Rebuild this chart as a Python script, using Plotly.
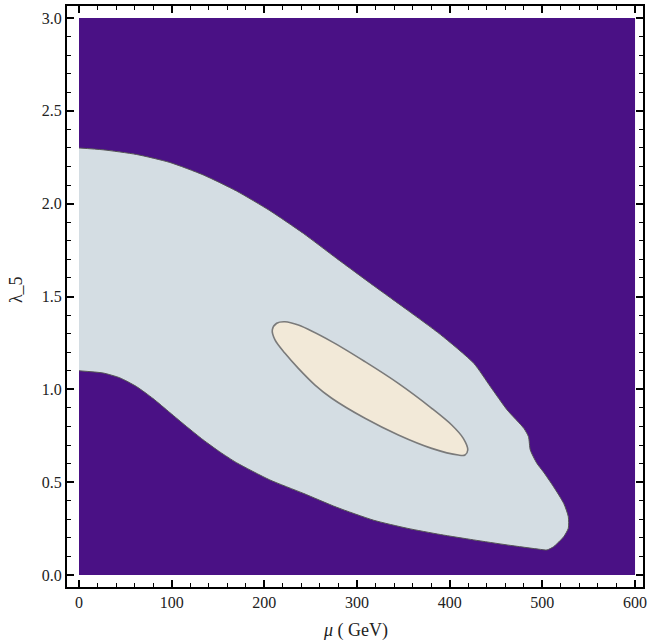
import plotly.graph_objects as go

# Plot domain (data units)
MU_RANGE = [0, 600]
LAM_RANGE = [0, 3]

# Allowed (light) region boundary: upper edge left->right, around tip, lower edge right->left
region_mu = [0, 26, 62, 98, 134, 170, 206, 242, 278, 318, 354, 390, 426, 444, 462, 480,
             485, 487, 494, 501, 512, 523, 528, 528, 523, 512, 505,
             498, 462, 426, 390, 354, 318, 278, 242, 206, 170, 152, 134, 116, 98, 80, 62, 44, 26, 0]
region_lam = [2.300, 2.290, 2.265, 2.222, 2.155, 2.068, 1.962, 1.840, 1.705, 1.558, 1.428, 1.295, 1.140, 1.014, 0.889, 0.790,
              0.745, 0.673, 0.602, 0.556, 0.476, 0.386, 0.314, 0.252, 0.206, 0.152, 0.135,
              0.138, 0.162, 0.189, 0.218, 0.252, 0.295, 0.365, 0.440, 0.512, 0.605, 0.663, 0.728, 0.800, 0.875, 0.950, 1.015, 1.062, 1.088, 1.100]

# Inner (cream) region boundary
ell_mu = [208.6, 213.3, 222.3, 236.7, 272.7, 308.6, 344.6, 380.6, 402.2, 414.7, 419.5,
          416.5, 409.3, 380.6, 344.6, 308.6, 272.7, 254.7, 236.7, 222.3, 211.5, 208.6]
ell_lam = [1.320, 1.356, 1.364, 1.346, 1.257, 1.149, 1.032, 0.898, 0.808, 0.736, 0.673,
           0.646, 0.646, 0.682, 0.754, 0.844, 0.952, 1.023, 1.113, 1.194, 1.266, 1.320]

X_TICKS = [0, 100, 200, 300, 400, 500, 600]
Y_TICKS = [0.0, 0.5, 1.0, 1.5, 2.0, 2.5, 3.0]

PURPLE = "#4A1185"
LIGHT = "#D4DDE3"
CREAM = "#F2E9D8"
EDGE = "#7A7A7A"
FONT = "Liberation Serif"

fig = go.Figure()

fig.add_trace(go.Scatter(
    x=[MU_RANGE[0], MU_RANGE[1], MU_RANGE[1], MU_RANGE[0], MU_RANGE[0]],
    y=[LAM_RANGE[0], LAM_RANGE[0], LAM_RANGE[1], LAM_RANGE[1], LAM_RANGE[0]],
    fill="toself", fillcolor=PURPLE, mode="lines", line=dict(width=0, color=PURPLE),
    hoverinfo="skip", showlegend=False))

fig.add_trace(go.Scatter(
    x=region_mu, y=region_lam, fill="toself", fillcolor=LIGHT, mode="lines",
    line=dict(color="#555555", width=1, shape="spline", smoothing=0.6),
    hoverinfo="skip", showlegend=False))

fig.add_trace(go.Scatter(
    x=ell_mu, y=ell_lam, fill="toself", fillcolor=CREAM, mode="lines",
    line=dict(color=EDGE, width=1.6, shape="spline", smoothing=0.9),
    hoverinfo="skip", showlegend=False))

axis_common = dict(
    showgrid=False, zeroline=False, showline=True, linecolor="black", linewidth=2,
    mirror="allticks", ticks="inside", ticklen=7, tickwidth=1.5, tickcolor="black",
    tickfont=dict(family=FONT, size=16, color="#222222"), automargin=False,
)

fig.update_xaxes(range=[-12.95, 608.6], tickvals=X_TICKS, ticktext=[str(v) for v in X_TICKS],
                 minor=dict(ticks="inside", dtick=20, ticklen=4, tickwidth=1.2, tickcolor="black"),
                 **axis_common)
fig.update_yaxes(range=[-0.0646, 3.0646], tickvals=Y_TICKS, ticktext=[f"{v:.1f}" for v in Y_TICKS],
                 minor=dict(ticks="inside", dtick=0.1, ticklen=4, tickwidth=1.2, tickcolor="black"),
                 **axis_common)

fig.update_layout(
    width=648, height=642,
    margin=dict(l=67, r=5, t=6, b=55, autoexpand=False),
    plot_bgcolor="white", paper_bgcolor="white",
    annotations=[
        dict(text="<i>μ</i> ( GeV)", x=0.5, y=0, xref="paper", yref="paper",
             xanchor="center", yanchor="top", yshift=-31, showarrow=False,
             font=dict(family=FONT, size=18, color="#222222")),
        dict(text="λ_5", x=0, y=0.511, xref="paper", yref="paper",
             xanchor="center", yanchor="middle", xshift=-51, textangle=-90, showarrow=False,
             font=dict(family=FONT, size=18, color="#222222")),
    ],
)

fig.write_html(
    "out.html",
    config={"displayModeBar": False},
    post_script=("document.body.style.margin='0';document.body.style.padding='0';"
                 "document.documentElement.style.overflow='hidden';document.body.style.overflow='hidden';"),
)
